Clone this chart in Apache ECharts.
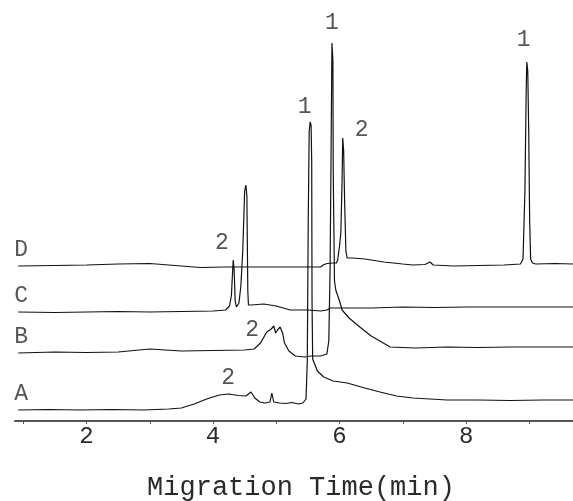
<!DOCTYPE html>
<html>
<head>
<meta charset="utf-8">
<script src="https://cdn.jsdelivr.net/npm/echarts@6/dist/echarts.min.js"></script>
<style>
html,body{margin:0;padding:0;background:#fff;}
#chart{width:573px;height:501px;}
</style>
</head>
<body>
<div id="chart"></div>
<script>
// Migration time (min) vs detector signal (offset traces, arbitrary units)
const traceA = [
  [0.92,11],[1.4,11.5],[1.9,11],[2.4,11.5],[2.9,11],[3.3,12],[3.5,13],[3.7,17],[3.9,22],[4.1,26],
  [4.25,27],[4.4,25.5],[4.52,25],[4.6,29],[4.66,23],[4.74,19],[4.82,18],[4.9,19],[4.93,28],[4.96,19],
  [5.05,18],[5.15,17.5],[5.25,18.5],[5.35,17],[5.42,18],[5.47,22],[5.49,60],[5.505,200],[5.52,290],
  [5.535,299],[5.55,296],[5.56,260],[5.565,120],[5.575,62],[5.6,58],[5.65,50],[5.75,44],[5.9,40],
  [6.12,38],[6.4,33],[6.64,29],[6.9,25],[7.16,23],[7.7,21],[8.2,21],[8.7,20.5],[9.2,21],[9.69,21]
];
const traceB = [
  [0.92,68],[1.5,69],[2.0,68.5],[2.5,69],[3.0,72],[3.5,70],[4.0,70.5],[4.5,71],[4.65,72],[4.75,78],
  [4.85,89],[4.92,92],[4.96,95],[4.99,88],[5.02,91],[5.06,94],[5.1,88],[5.13,78],[5.2,70],[5.3,65],
  [5.45,64],[5.55,65],[5.7,65],[5.8,67],[5.83,80],[5.85,150],[5.87,300],[5.88,378],[5.895,360],
  [5.9,250],[5.92,140],[5.94,131],[6.0,120],[6.04,111],[6.15,103],[6.32,94],[6.5,85],[6.8,74],
  [7.2,73],[7.7,74],[8.2,73.5],[8.7,74],[9.2,74],[9.69,74]
];
const traceC = [
  [0.92,109],[1.5,108.5],[2.0,109],[2.5,109.5],[3.0,109],[3.5,109.5],[4.0,110],[4.2,111],[4.26,115],
  [4.29,125],[4.31,150],[4.32,161],[4.335,150],[4.35,120],[4.37,114],[4.41,118],[4.44,135],[4.47,170],
  [4.5,230],[4.52,236],[4.535,225],[4.55,130],[4.56,116],[4.6,116],[4.8,117],[5.0,115],[5.22,111],
  [5.5,111],[5.7,110],[5.8,111],[5.85,113],[6.0,113],[6.5,113],[7.0,114],[7.5,113.5],[8.0,114],
  [8.5,114],[9.0,114],[9.69,114]
];
const traceD = [
  [0.92,155],[1.5,155.5],[2.0,156],[2.5,157],[3.0,157.5],[3.5,155],[3.8,153.5],[4.2,154],[4.6,154],
  [5.0,154],[5.5,154],[5.7,154],[5.74,156],[5.8,157.5],[5.9,158],[5.95,158],[5.97,161],[6.0,175],
  [6.02,188],[6.04,240],[6.05,283],[6.065,270],[6.08,220],[6.1,170],[6.12,163],[6.2,163],[6.4,162],
  [6.7,159],[7.0,157],[7.16,156],[7.35,156.5],[7.43,159],[7.48,156],[7.8,155],[8.2,155.5],[8.6,156],
  [8.86,157],[8.9,162],[8.93,230],[8.95,330],[8.96,359],[8.975,350],[8.99,290],[9.005,200],[9.02,162],
  [9.05,158],[9.1,157],[9.4,157.5],[9.69,157]
];
const traceNames = ['A','B','C','D'];
const traceNameLevels = [27,84,125,171];
const peakLabels = [
  [8.91,381,'1'],[5.88,398,'1'],[5.45,314,'1'],
  [6.35,291,'2'],[4.14,178,'2'],[4.62,91,'2'],[4.24,43,'2']
];
const xTicks = [1,2,3,4,5,6,7,8,9];
const xTickLabels = [2,4,6,8];

const FONT = '"Liberation Mono", "DejaVu Sans Mono", monospace';
const traces = [traceA, traceB, traceC, traceD];
const lineSeries = traces.map((d, i) => ({
  type: 'line', name: traceNames[i], data: d, showSymbol: false, symbol: 'none',
  lineStyle: {color: '#111', width: 1.2}, silent: true, z: 3
}));
const nameSeries = {
  type: 'scatter', symbolSize: 0, silent: true,
  data: traceNames.map((n, i) => ({value: [0.92, traceNameLevels[i]], name: n})),
  label: {show: true, position: 'inside', align: 'left', formatter: p => p.name,
          fontFamily: FONT, fontSize: 23, color: '#2a2a2a', offset: [-4, 0]}
};
const peakSeries = {
  type: 'scatter', symbolSize: 0, silent: true,
  data: peakLabels.map(p => ({value: [p[0], p[1]], name: p[2]})),
  label: {show: true, position: 'inside', formatter: p => p.name,
          fontFamily: FONT, fontSize: 23, color: '#2a2a2a'}
};

const chart = echarts.init(document.getElementById('chart'), null, {renderer: 'canvas'});
chart.setOption({
  animation: false,
  backgroundColor: '#fff',
  grid: {left: 15, right: 0, top: 0, bottom: 80, containLabel: false, outerBoundsMode: 'none'},
  xAxis: {
    type: 'value', min: 0.87, max: 9.69,
    name: 'Migration Time(min)', nameLocation: 'middle', nameGap: 53,
    nameTextStyle: {fontFamily: FONT, fontSize: 27, color: '#2a2a2a', padding: [0, 0, 0, 14]},
    axisLine: {show: true, lineStyle: {color: '#555', width: 2}},
    axisTick: {show: true, length: 3, customValues: xTicks, lineStyle: {color: '#555'}},
    axisLabel: {customValues: xTickLabels, fontFamily: FONT, fontSize: 24, color: '#2a2a2a', margin: 4},
    splitLine: {show: false}
  },
  yAxis: {type: 'value', min: 0, max: 421, show: false},
  series: [...lineSeries, nameSeries, peakSeries]
});
</script>
</body>
</html>
